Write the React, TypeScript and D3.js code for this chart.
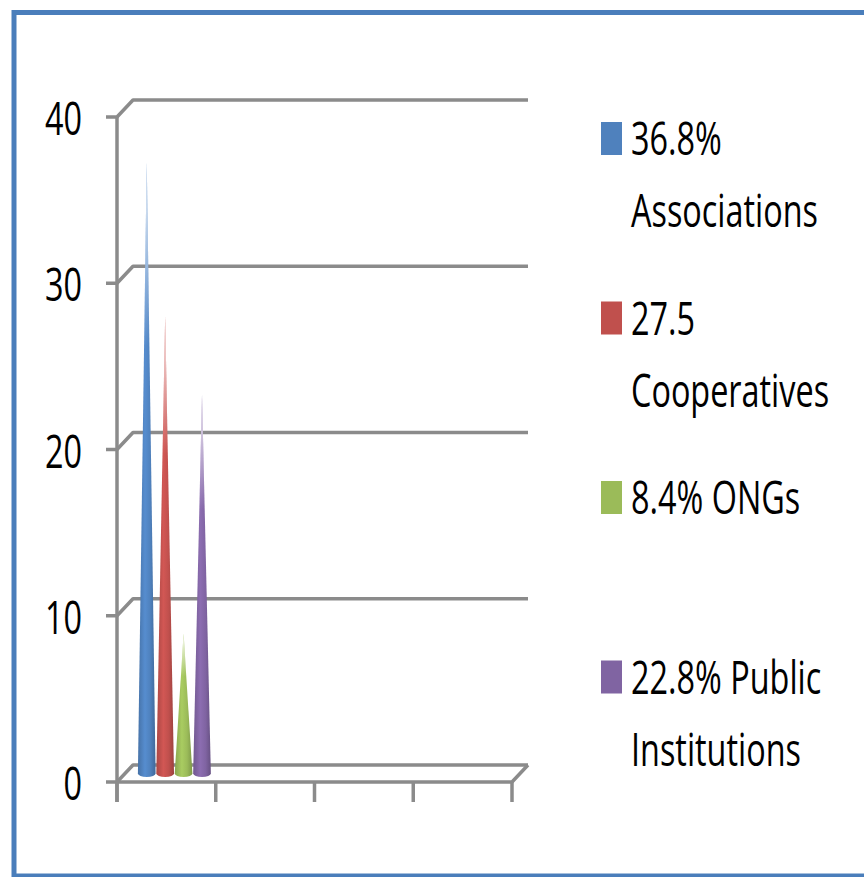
import React from "react";
import * as d3 from "d3";

const categories = ["1", "2", "3", "4"];
const seriesKeys = ["Associations", "Cooperatives", "ONGs", "Public Institutions"];
const seriesValues = [36.8, 27.5, 8.4, 22.8];
const seriesColors = ["#4F81BD", "#C0504D", "#9BBB59", "#8064A2"];
const legendLines = [
  ["36.8%", "Associations"],
  ["27.5", "Cooperatives"],
  ["8.4% ONGs"],
  ["22.8% Public", "Institutions"],
];
const yTicks = [0, 10, 20, 30, 40];

const W = 864;
const H = 877;
const FONT = "'Open Sans', 'Liberation Sans', sans-serif";
const FS = 45;
const SX = 0.72;

export default function App() {
  const x0 = 117;
  const x1 = 512;
  const depthX = 16;
  const depthY = -17;
  const y = d3.scaleLinear().domain([0, 40]).range([782, 117]);
  const xBand = d3.scaleBand().domain(categories).range([x0, x1]);
  const inner = d3
    .scaleBand()
    .domain(seriesKeys)
    .range([0, xBand.bandwidth()])
    .paddingInner(0)
    .paddingOuter(0.68);
  const gridColor = "#8b8b8b";
  const gridW = 3.5;
  const midX = depthX / 2;
  const midY = depthY / 2;
  const legendY = d3.scaleLinear().domain([0, 1]).range([155, 334.5]);

  return (
    <svg
      width={W}
      height={H}
      style={{ position: "absolute", left: 0, top: 0, display: "block", background: "#fff" }}
    >
      <defs>
        {seriesColors.map((c, i) => {
          const base = d3.color(c)!;
          return (
            <linearGradient key={i} id={`cg${i}`} x1="0" y1="0" x2="1" y2="0">
              <stop offset="0" stopColor={base.darker(0.35).formatHex()} />
              <stop offset="0.4" stopColor={base.brighter(0.25).formatHex()} />
              <stop offset="0.7" stopColor={base.formatHex()} />
              <stop offset="1" stopColor={base.darker(0.6).formatHex()} />
            </linearGradient>
          );
        })}
        <linearGradient id="fade" x1="0" y1="0" x2="0" y2="1">
          <stop offset="0" stopColor="#fff" stopOpacity={0.95} />
          <stop offset="0.12" stopColor="#fff" stopOpacity={0.55} />
          <stop offset="0.3" stopColor="#fff" stopOpacity={0} />
        </linearGradient>
      </defs>

      {/* outer border */}
      <rect x={14} y={12.5} width={900} height={863.5} fill="none" stroke="#4A7EBB" strokeWidth={5} />

      {/* back wall gridlines */}
      {yTicks.map((t) => {
        const yy = y(t);
        return (
          <path
            key={t}
            d={`M${x0 - 11},${yy}L${x0},${yy}L${x0 + depthX},${yy + depthY}L${x1 + depthX},${yy + depthY}`}
            fill="none"
            stroke={gridColor}
            strokeWidth={gridW}
            strokeLinejoin="round"
          />
        );
      })}
      {/* floor */}
      <path
        d={`M${x0},${y(0)}L${x1},${y(0)}L${x1 + depthX},${y(0) + depthY}`}
        fill="none"
        stroke={gridColor}
        strokeWidth={gridW}
        strokeLinejoin="round"
      />
      {/* vertical axis */}
      <line x1={x0} x2={x0} y1={y(40)} y2={y(0) + 20} stroke={gridColor} strokeWidth={gridW} />
      {/* x ticks */}
      {[...categories.map((c) => xBand(c)!), x1].map((xx, i) => (
        <line key={i} x1={xx} x2={xx} y1={y(0)} y2={y(0) + 20} stroke={gridColor} strokeWidth={gridW} />
      ))}

      {/* y labels */}
      {yTicks.map((t) => (
        <text
          key={t}
          transform={`translate(82,${y(t) + 18}) scale(${SX},1)`}
          textAnchor="end"
          fontFamily={FONT}
          fontSize={FS}
          fill="#000"
        >
          {t}
        </text>
      ))}

      {/* cones */}
      {seriesKeys.map((k, i) => {
        const v = seriesValues[i];
        const bx = xBand(categories[0])! + inner(k)! + midX;
        const bw = inner.bandwidth() * 0.96;
        const cx = bx + inner.bandwidth() / 2;
        const baseY = y(0) + midY;
        const topY = y(v) + midY;
        const rx = bw / 2;
        const ry = 3.5;
        const d = `M${cx - rx},${baseY}L${cx},${topY}L${cx + rx},${baseY}A${rx},${ry} 0 0 1 ${cx - rx},${baseY}Z`;
        return (
          <g key={k}>
            <path d={d} fill={`url(#cg${i})`} />
            <path d={d} fill="url(#fade)" />
          </g>
        );
      })}

      {/* legend */}
      {legendLines.map((lines, i) => {
        const by = legendY(i);
        return (
          <g key={i}>
            <rect x={601} y={by - 33} width={21} height={33} fill={seriesColors[i]} />
            {lines.map((ln, j) => (
              <text
                key={j}
                transform={`translate(631,${by + j * 72}) scale(${SX},1)`}
                fontFamily={FONT}
                fontSize={FS}
                fill="#000"
              >
                {ln}
              </text>
            ))}
          </g>
        );
      })}
    </svg>
  );
}
